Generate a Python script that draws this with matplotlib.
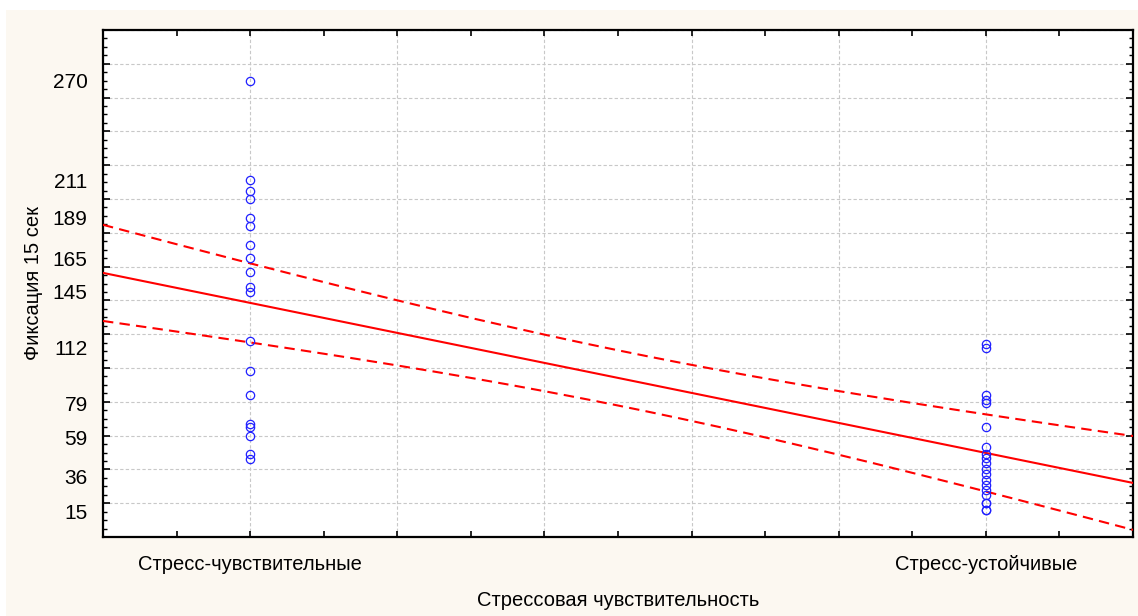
import numpy as np
import matplotlib
matplotlib.use("Agg")
import matplotlib.pyplot as plt
from matplotlib.ticker import MultipleLocator, FuncFormatter
from matplotlib.patches import Rectangle

plt.rcParams['font.family'] = ['Liberation Sans', 'DejaVu Sans']

# данные
categories = ["Стресс-чувствительные", "Стресс-устойчивые"]
sensitive = [270, 211, 205, 200, 189, 184, 173, 165, 157, 148, 145,
             116, 98, 84, 67, 65, 60, 49, 46]
resistant = [114, 112, 84, 81, 79, 65, 53, 49, 47, 44, 40, 37, 34,
             31, 28, 25, 20, 20, 16, 16]
ytick_vals = [15, 36, 59, 79, 112, 145, 165, 189, 211, 270]
xlabel = "Стрессовая чувствительность"
ylabel = "Фиксация 15 сек"
t_crit = 2.03  # t(0.975, df=35)

x = np.array([0] * len(sensitive) + [1] * len(resistant), dtype=float)
y = np.array(sensitive + resistant, dtype=float)

# линейная регрессия и 95% доверительный интервал
b, a = np.polyfit(x, y, 1)
n = len(x)
resid = y - (a + b * x)
s = np.sqrt(np.sum(resid ** 2) / (n - 2))
sxx = np.sum((x - x.mean()) ** 2)
xs = np.linspace(-0.2, 1.2, 200)
fit = a + b * xs
half = t_crit * s * np.sqrt(1.0 / n + (xs - x.mean()) ** 2 / sxx)

fig = plt.figure(figsize=(11.38, 6.16), dpi=100, facecolor='white')
bg = Rectangle((6 / 1138, 0), 1, 1 - 10 / 616, transform=fig.transFigure,
               facecolor='#fcf8f1', edgecolor='none', zorder=-10)
fig.add_artist(bg)
ax = fig.add_axes([103 / 1138, 79 / 616, 1030 / 1138, 507 / 616])
ax.set_facecolor('white')

ax.plot(xs, fit, color='#ff0000', lw=1.5, zorder=3)
ax.plot(xs, fit + half, color='#ff0000', lw=1.5, ls=(0, (5, 3)), zorder=3)
ax.plot(xs, fit - half, color='#ff0000', lw=1.5, ls=(0, (5, 3)), zorder=3)
ax.plot(x, y, 'o', mfc='none', mec='#2020ff', ms=6, mew=0.9, zorder=4)

ax.set_xlim(-0.2, 1.2)
ax.set_ylim(0, 300)

ax.xaxis.set_major_locator(MultipleLocator(0.2))
ax.xaxis.set_minor_locator(MultipleLocator(0.1))
def xfmt(v, pos):
    i = int(round(v))
    if abs(v - i) < 1e-6 and 0 <= i < len(categories):
        return categories[i]
    return ''
ax.xaxis.set_major_formatter(FuncFormatter(xfmt))

ax.yaxis.set_major_locator(MultipleLocator(20))
ax.yaxis.set_minor_locator(MultipleLocator(5))
ax.yaxis.set_major_formatter(FuncFormatter(lambda v, p: ''))

ax.tick_params(which='both', direction='in', top=True, right=True, color='black')
ax.tick_params(axis='x', which='major', length=4, width=1.2, labelsize=14.5, pad=13)
ax.tick_params(axis='x', which='minor', length=4, width=1.2)
ax.tick_params(axis='y', which='major', length=5, width=1.2)
ax.tick_params(axis='y', which='minor', length=3, width=1)

ax.grid(True, which='major', color='#c8c8c8', ls=(0, (3, 2)), lw=0.8)
ax.set_axisbelow(True)
for sp in ax.spines.values():
    sp.set_linewidth(1.6)

sec = ax.secondary_yaxis('left')
sec.set_yticks(ytick_vals)
sec.tick_params(length=0, labelsize=15, pad=11)
sec.spines['left'].set_visible(False)

ax.set_xlabel(xlabel, fontsize=14.5, labelpad=12)
sec.set_ylabel(ylabel, fontsize=14.5, labelpad=7)

fig.savefig('out.png', dpi=100, facecolor=fig.get_facecolor())
